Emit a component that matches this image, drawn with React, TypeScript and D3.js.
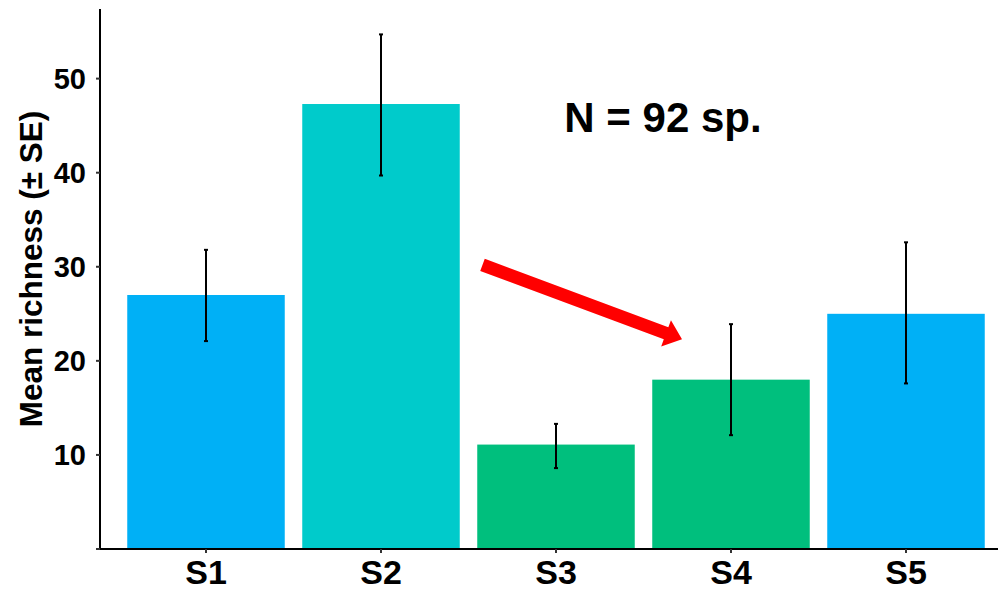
import React from 'react';
import * as d3 from 'd3';

// bar values
const sites = ['S1', 'S2', 'S3', 'S4', 'S5'];
const meanRichness = [27.0, 47.3, 11.1, 18.0, 25.0];
const seUpper = [31.8, 54.7, 13.3, 23.9, 32.6];
const seLower = [22.1, 39.7, 8.6, 12.1, 17.6];
const barColors = ['#00B0F6', '#00CBCB', '#00BF7D', '#00BF7D', '#00B0F6'];
const yTicks = [0, 10, 20, 30, 40, 50];

// arrow, in category position units (1 = S1) and y values
const arrowFrom = [2.58, 30.2];
const arrowTo = [3.72, 22.3];

const W = 998;
const H = 592;
const margin = { top: 9, right: -13, bottom: 43, left: 100 };

const App = () => {
  const x = d3.scaleBand()
    .domain(sites)
    .range([margin.left + 1, W - margin.right])
    .paddingInner(0.1)
    .paddingOuter(0.15);

  const y = d3.scaleLinear()
    .domain([0, 57.4])
    .range([H - margin.bottom, margin.top]);

  // continuous position scale matching the band centres
  const xPos = d3.scaleLinear()
    .domain([1, 2])
    .range([x(sites[0])! + x.bandwidth() / 2, x(sites[1])! + x.bandwidth() / 2]);

  const x0 = xPos(arrowFrom[0]), y0 = y(arrowFrom[1]);
  const x1 = xPos(arrowTo[0]), y1 = y(arrowTo[1]);
  const ang = Math.atan2(y1 - y0, x1 - x0);
  const headLen = 17, headHalf = 14, shaftHalf = 6.5;
  const ux = Math.cos(ang), uy = Math.sin(ang);
  const px = -uy, py = ux;
  const bx = x1 - ux * headLen, by = y1 - uy * headLen;
  const arrowPts = [
    [x0 + px * shaftHalf, y0 + py * shaftHalf],
    [bx + px * shaftHalf, by + py * shaftHalf],
    [bx + px * headHalf, by + py * headHalf],
    [x1, y1],
    [bx - px * headHalf, by - py * headHalf],
    [bx - px * shaftHalf, by - py * shaftHalf],
    [x0 - px * shaftHalf, y0 - py * shaftHalf],
  ].map(p => p.join(',')).join(' ');

  const base = y(0);

  return (
    <svg width={W} height={H}
      style={{ position: 'absolute', left: 0, top: 0, background: '#fff' }}
      fontFamily="'Liberation Sans', Arial, sans-serif" fontWeight="bold">
      {sites.map((s, i) => (
        <rect key={s}
          x={x(s)}
          y={y(meanRichness[i])}
          width={x.bandwidth()}
          height={base - y(meanRichness[i])}
          fill={barColors[i]} />
      ))}

      {sites.map((s, i) => {
        const cx = x(s)! + x.bandwidth() / 2;
        return (
          <g key={s} stroke="#000" strokeWidth={2}>
            <line x1={cx} x2={cx} y1={y(seUpper[i])} y2={y(seLower[i])} />
            <line x1={cx - 2} x2={cx + 2} y1={y(seUpper[i])} y2={y(seUpper[i])} />
            <line x1={cx - 2} x2={cx + 2} y1={y(seLower[i])} y2={y(seLower[i])} />
          </g>
        );
      })}

      <polygon points={arrowPts} fill="#FF0000" />

      <text x={663} y={132} fontSize={42} textAnchor="middle" fill="#000">N = 92 sp.</text>

      {/* axes */}
      <line x1={margin.left} x2={margin.left} y1={margin.top} y2={base + 1} stroke="#000" strokeWidth={2} />
      <line x1={margin.left - 1} x2={W} y1={base} y2={base} stroke="#000" strokeWidth={2} />

      {yTicks.map(t => (
        <g key={t}>
          <line x1={margin.left - 4} x2={margin.left} y1={y(t)} y2={y(t)} stroke="#333" strokeWidth={2} />
          {t > 0 && (
            <text x={margin.left - 14} y={y(t)} dy="0.36em" fontSize={29} textAnchor="end" fill="#000">{t}</text>
          )}
        </g>
      ))}

      {sites.map(s => {
        const cx = x(s)! + x.bandwidth() / 2;
        return (
          <g key={s}>
            <line x1={cx} x2={cx} y1={base} y2={base + 4} stroke="#333" strokeWidth={2} />
            <text x={cx} y={584} fontSize={34} textAnchor="middle" fill="#000">{s}</text>
          </g>
        );
      })}

      <text transform={`translate(42, ${(margin.top + base) / 2 - 10}) rotate(-90)`}
        fontSize={31.5} textAnchor="middle" fill="#000">Mean richness (± SE)</text>
    </svg>
  );
};

export default App;
